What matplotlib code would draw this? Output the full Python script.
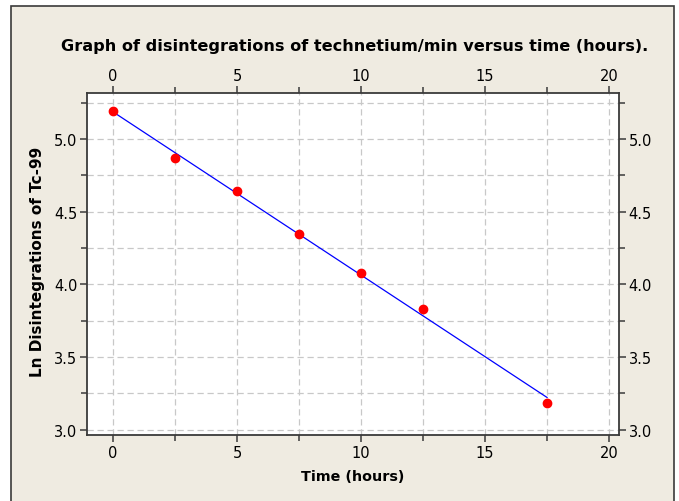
import matplotlib
matplotlib.use("Agg")
import matplotlib.pyplot as plt
from matplotlib.patches import Rectangle
from matplotlib.ticker import MultipleLocator, FormatStrFormatter
import numpy as np

# hours and ln(disintegrations/min) of Tc-99
time_hours = [0, 2.5, 5, 7.5, 10, 12.5, 17.5]
ln_counts = [5.19, 4.867, 4.64, 4.346, 4.076, 3.832, 3.18]

title = "Graph of disintegrations of technetium/min versus time (hours)."
xlabel = "Time (hours)"
ylabel = "Ln Disintegrations of Tc-99"

bg = "#EFEBE1"
plt.rcParams["font.family"] = ["DejaVu Sans"]

fig = plt.figure(figsize=(6.79, 5.02), dpi=100)
fig.patch.set_facecolor("white")
frame = Rectangle((11 / 679, -0.01), 663 / 679, 1 - 7 / 502 + 0.01,
                  transform=fig.transFigure, facecolor=bg,
                  edgecolor="#3A3A3A", linewidth=1.2, zorder=-1)
fig.add_artist(frame)

ax = fig.add_axes([87 / 679, 1 - 436 / 502, 532 / 679, 342 / 502])
ax.set_zorder(2)
ax.set_facecolor("white")

# least-squares line
slope, intercept = np.polyfit(time_hours, ln_counts, 1)
xs = np.array([time_hours[0], time_hours[-1]])
ax.plot(xs, intercept + slope * xs, color="#0000FF", linewidth=0.9, zorder=3)
ax.plot(time_hours, ln_counts, "o", color="#FF0000", markersize=6, zorder=4)

ax.set_xlim(-1.05, 20.4)
ax.set_ylim(2.963, 5.317)
ax.xaxis.set_major_locator(MultipleLocator(5))
ax.xaxis.set_minor_locator(MultipleLocator(2.5))
ax.yaxis.set_major_locator(MultipleLocator(0.5))
ax.yaxis.set_minor_locator(MultipleLocator(0.25))
ax.yaxis.set_major_formatter(FormatStrFormatter("%.1f"))

ax.grid(True, which="both", color="#C8C8C8", linestyle=(0, (5, 3)), linewidth=0.9)
ax.set_axisbelow(True)

ax.tick_params(which="both", direction="out", top=True, right=True,
               labeltop=True, labelright=True, color="#3A3A3A",
               labelsize=10.5, pad=2)
ax.tick_params(which="major", length=5, width=1.1)
ax.tick_params(which="minor", length=4, width=1.1)
for s in ax.spines.values():
    s.set_color("#3A3A3A")
    s.set_linewidth(1.3)

fig.text(355 / 679, 1 - 47 / 502, title, ha="center", va="center",
         fontsize=11.6, fontweight="bold")
fig.text(353 / 679, 1 - 477 / 502, xlabel, ha="center", va="center",
         fontsize=10.3, fontweight="bold")
fig.text(38 / 679, 1 - 262 / 502, ylabel, ha="center", va="center",
         rotation=90, fontsize=11, fontweight="bold")

fig.savefig("out.png", dpi=100, facecolor=fig.get_facecolor())
